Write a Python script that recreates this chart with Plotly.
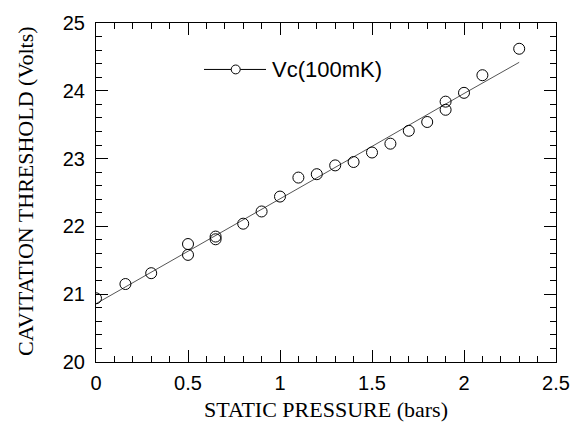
import plotly.graph_objects as go

# Measured data: static pressure (bars) vs cavitation threshold (Volts)
pressure = [0.00, 0.16, 0.30, 0.50, 0.50, 0.65, 0.65, 0.80, 0.90, 1.00,
            1.10, 1.20, 1.30, 1.40, 1.50, 1.60, 1.70, 1.80, 1.90, 1.90,
            2.00, 2.10, 2.30]
threshold = [20.94, 21.15, 21.31, 21.74, 21.58, 21.85, 21.81, 22.04, 22.22, 22.44,
             22.72, 22.77, 22.90, 22.95, 23.09, 23.22, 23.41, 23.54, 23.84, 23.72,
             23.97, 24.23, 24.62]

# Fit curve
fit_x = [0.0, 0.5, 1.0, 1.5, 2.0, 2.3]
fit_y = [20.86, 21.63, 22.41, 23.18, 23.96, 24.42]

legend_name = "Vc(100mK)"
x_ticks = [0, 0.5, 1, 1.5, 2, 2.5]
x_tick_labels = ["0", "0.5", "1", "1.5", "2", "2.5"]
y_ticks = [20, 21, 22, 23, 24, 25]

fig = go.Figure()
fig.add_trace(go.Scatter(x=fit_x, y=fit_y, mode="lines",
                         line=dict(color="#555555", width=1), showlegend=False))
fig.add_trace(go.Scatter(x=pressure, y=threshold, mode="markers", name=legend_name,
                         marker=dict(symbol="circle-open", size=11,
                                     line=dict(color="black", width=1), color="black"),
                         showlegend=False))

axis_common = dict(showline=True, linecolor="black", linewidth=1, mirror="ticks",
                   ticks="inside", ticklen=12, tickcolor="black", tickwidth=1,
                   showgrid=False, zeroline=False,
                   tickfont=dict(family="Liberation Sans, Arial", size=20, color="black"))

fig.update_xaxes(range=[0, 2.5], tickvals=x_ticks, ticktext=x_tick_labels,
                 minor=dict(ticks="inside", ticklen=6, dtick=0.1, tickcolor="black"),
                 title=dict(text="STATIC PRESSURE (bars)",
                            font=dict(family="Liberation Serif, Times New Roman", size=22, color="black"),
                            standoff=8),
                 ticklabelstandoff=3,
                 **axis_common)
fig.update_yaxes(range=[20, 25], tickvals=y_ticks,
                 minor=dict(ticks="inside", ticklen=6, dtick=0.2, tickcolor="black"),
                 ticklabelstandoff=6,
                 **axis_common)

fig.add_annotation(text="CAVITATION THRESHOLD (Volts)", textangle=-90,
                   xref="paper", yref="paper", x=-0.152, y=0.502,
                   xanchor="center", yanchor="middle", showarrow=False,
                   font=dict(family="Liberation Serif, Times New Roman", size=22, color="black"))

# Hand-drawn legend (line + open circle + label), as in the original figure
leg_y = 0.863
fig.add_shape(type="line", xref="paper", yref="paper",
              x0=0.2348, x1=0.3696, y0=leg_y, y1=leg_y,
              line=dict(color="black", width=1))
fig.add_shape(type="circle", xref="paper", yref="paper",
              x0=0.3037 - 0.0098, x1=0.3037 + 0.0098,
              y0=leg_y - 0.0131, y1=leg_y + 0.0131,
              fillcolor="white", line=dict(color="black", width=1))
fig.add_annotation(text=legend_name, xref="paper", yref="paper",
                   x=0.3785, y=leg_y, xanchor="left", yanchor="middle", showarrow=False,
                   font=dict(family="Liberation Sans, Arial", size=22, color="black"))

fig.update_layout(width=583, height=440,
                  margin=dict(l=96, r=27, t=19, b=78),
                  plot_bgcolor="white", paper_bgcolor="white",
                  showlegend=False)

fig.write_html("out.html")
